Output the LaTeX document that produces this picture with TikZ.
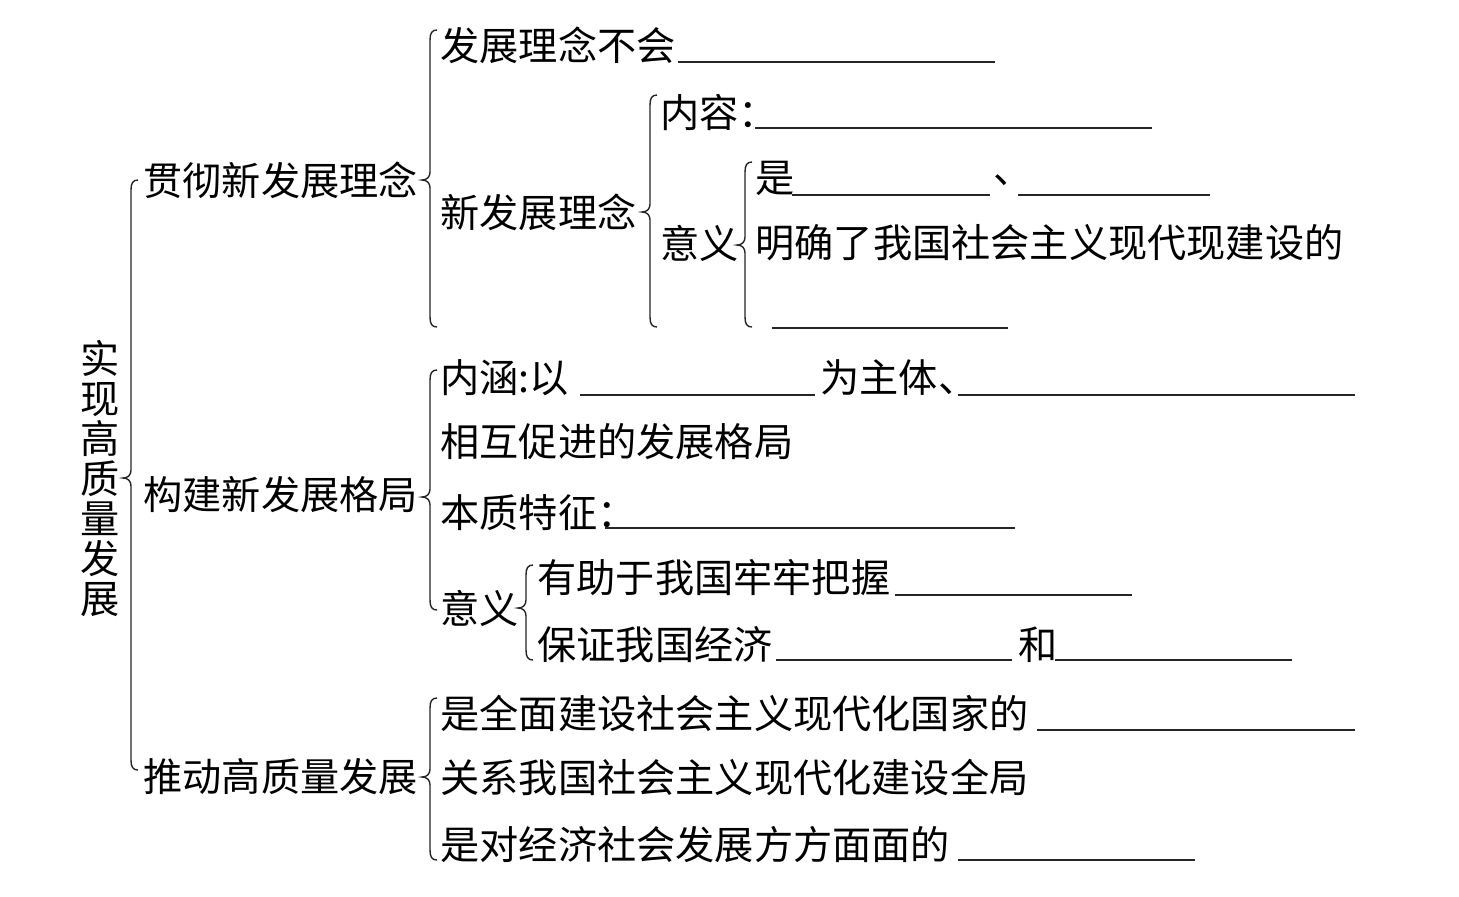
\documentclass[tikz,border=0pt]{standalone}
\usepackage{fontspec}
\setmainfont{Noto Sans CJK SC}
\newcommand\mybrace[4]{%
  \draw[bracestyle] (#1+7,#2) .. controls (#1+2,#2) and (#1,#2+3) .. (#1,#2+10)
    -- (#1,#3-8) .. controls (#1,#3-3) and (#1-3,#3) .. (#1-8,#3)
    .. controls (#1-3,#3) and (#1,#3+3) .. (#1,#3+8)
    -- (#1,#4-10) .. controls (#1,#4-3) and (#1+2,#4) .. (#1+7,#4);}
\begin{document}
\begin{tikzpicture}[x=0.5pt,y=-0.5pt,
  txt/.style={anchor=west,inner sep=0pt,font=\fontsize{19.6pt}{20pt}\selectfont},
  bracestyle/.style={line width=0.7pt,black!85},
  blank/.style={line width=0.6pt,black!85}]
\useasboundingbox[fill=white] (0,0) rectangle (1459,896);
% root
\node[inner sep=0pt,align=center,font=\fontsize{19.6pt}{20pt}\selectfont] (root) at (100,478) {实\\现\\高\\质\\量\\发\\展};
\mybrace{131}{180}{478}{770}
% level 1
\node[txt] (a) at (143,180) {贯彻新发展理念};
\node[txt] (b) at (143,495) {构建新发展格局};
\node[txt] (c) at (143,777) {推动高质量发展};
% branch a
\mybrace{430}{30}{180}{327}
\node[txt] (a1) at (440,45) {发展理念不会};
\draw[blank] (678,62) -- (995,62);
\node[txt] (a2) at (440,212) {新发展理念};
\mybrace{650}{95}{212}{327}
\node[txt] (a21) at (660,112) {内容：};
\draw[blank] (755,128) -- (1152,128);
\node[txt] (a22) at (660,243) {意义};
\mybrace{745}{162}{245}{327}
\node[txt] (a221) at (755,178) {是};
\draw[blank] (792,195) -- (990,195);
\node[txt] (dun1) at (993,180) {、};
\draw[blank] (1018,195) -- (1210,195);
\node[txt] (a222) at (755,243) {明确了我国社会主义现代现建设的};
\draw[blank] (772,328) -- (1008,328);
% branch b
\mybrace{430}{370}{497}{610}
\node[txt] (b1) at (440,378) {内涵:以};
\draw[blank] (580,395) -- (815,395);
\node[txt] (b1b) at (820,378) {为主体、};
\draw[blank] (958,395) -- (1355,395);
\node[txt] (b1c) at (440,442) {相互促进的发展格局};
\node[txt] (b2) at (440,513) {本质特征：};
\draw[blank] (605,528) -- (1015,528);
\node[txt] (b3) at (440,608) {意义};
\mybrace{526}{565}{608}{660}
\node[txt] (b31) at (537,578) {有助于我国牢牢把握};
\draw[blank] (895,595) -- (1132,595);
\node[txt] (b32) at (537,645) {保证我国经济};
\draw[blank] (776,660) -- (1012,660);
\node[txt] (he) at (1018,645) {和};
\draw[blank] (1055,660) -- (1292,660);
% branch c
\mybrace{430}{698}{777}{860}
\node[txt] (c1) at (440,713) {是全面建设社会主义现代化国家的};
\draw[blank] (1037,730) -- (1355,730);
\node[txt] (c2) at (440,777) {关系我国社会主义现代化建设全局};
\node[txt] (c3) at (440,845) {是对经济社会发展方方面面的};
\draw[blank] (958,860) -- (1195,860);
\end{tikzpicture}
\end{document}
